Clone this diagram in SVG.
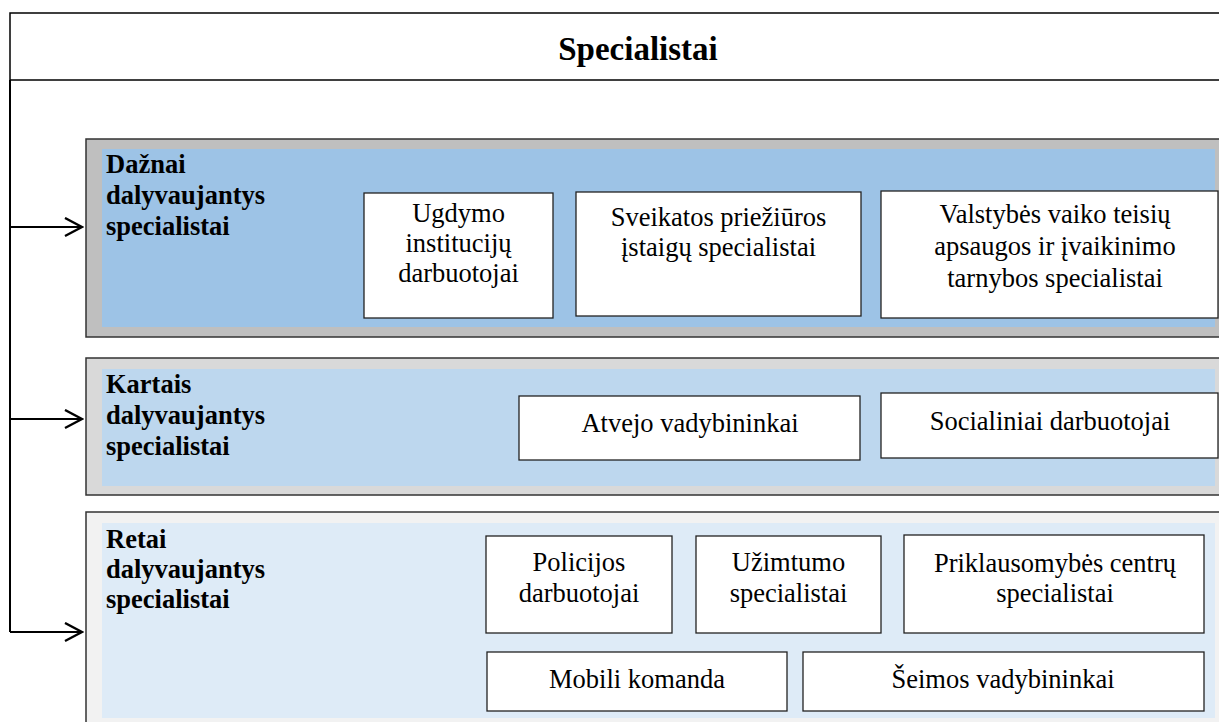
<svg xmlns="http://www.w3.org/2000/svg" width="1219" height="722" viewBox="0 0 1219 722">
<defs>
<style>
.t{font-family:"Liberation Serif","Times New Roman",serif;font-size:26.5px;fill:#000;text-anchor:middle}
.h{font-family:"Liberation Serif","Times New Roman",serif;font-size:26.5px;font-weight:bold;fill:#000}
.box{fill:#fff;stroke:#222;stroke-width:1.3}
.pan{stroke:#333;stroke-width:1.5}
.conn{fill:none;stroke:#000;stroke-width:2}
</style>
<marker id="arr" markerWidth="20" markerHeight="22" refX="18" refY="10" orient="auto" markerUnits="userSpaceOnUse">
<path d="M1,1 L18,10 L1,19" fill="none" stroke="#000" stroke-width="2.4"/>
</marker>
</defs>
<rect width="1219" height="722" fill="#fff"/>
<g id="title">
<rect x="10" y="13" width="1215" height="67" fill="#fff" stroke="#000" stroke-width="1.5"/>
<text x="638" y="60" font-family="Liberation Serif, Times New Roman, serif" font-size="33" font-weight="bold" text-anchor="middle">Specialistai</text>
</g>
<g id="panel-dazanai">
<rect class="pan" x="86" y="139" width="1140" height="198" fill="#bfbfbf"/>
<rect x="102" y="149" width="1113" height="178" fill="#9dc3e6"/>
<text class="h" x="106" y="173">Dažnai</text>
<text class="h" x="106" y="204">dalyvaujantys</text>
<text class="h" x="106" y="235">specialistai</text>
</g>
<g id="node-ugdymo">
<rect class="box" x="364" y="193" width="189" height="125"/>
<text class="t" x="458.5" y="222">Ugdymo</text>
<text class="t" x="458.5" y="252">institucijų</text>
<text class="t" x="458.5" y="282">darbuotojai</text>
</g>
<g id="node-sveikatos">
<rect class="box" x="576" y="192" width="285" height="124"/>
<text class="t" x="718.5" y="226">Sveikatos priežiūros</text>
<text class="t" x="718.5" y="256">įstaigų specialistai</text>
</g>
<g id="node-valstybes">
<rect class="box" x="881" y="191" width="337" height="127"/>
<text class="t" x="1055" y="223">Valstybės vaiko teisių</text>
<text class="t" x="1055" y="255">apsaugos ir įvaikinimo</text>
<text class="t" x="1055" y="287">tarnybos specialistai</text>
</g>
<g id="panel-kartais">
<rect class="pan" x="86" y="358" width="1140" height="137" fill="#d9d9d9"/>
<rect x="102" y="369" width="1113" height="117" fill="#bdd7ee"/>
<text class="h" x="106" y="393">Kartais</text>
<text class="h" x="106" y="424">dalyvaujantys</text>
<text class="h" x="106" y="455">specialistai</text>
</g>
<g id="node-atvejo">
<rect class="box" x="519" y="396" width="341" height="64"/>
<text class="t" x="690" y="432">Atvejo vadybininkai</text>
</g>
<g id="node-socialiniai">
<rect class="box" x="881" y="393" width="337" height="65"/>
<text class="t" x="1050" y="430">Socialiniai darbuotojai</text>
</g>
<g id="panel-retai">
<rect class="pan" x="86" y="512" width="1140" height="220" fill="#f2f2f2"/>
<rect x="102" y="523" width="1113" height="195" fill="#deebf7"/>
<text class="h" x="106" y="548">Retai</text>
<text class="h" x="106" y="578">dalyvaujantys</text>
<text class="h" x="106" y="608">specialistai</text>
</g>
<g id="node-policijos">
<rect class="box" x="486" y="536" width="186" height="97"/>
<text class="t" x="579" y="571">Policijos</text>
<text class="t" x="579" y="602">darbuotojai</text>
</g>
<g id="node-uzimtumo">
<rect class="box" x="696" y="536" width="185" height="97"/>
<text class="t" x="788.5" y="571">Užimtumo</text>
<text class="t" x="788.5" y="602">specialistai</text>
</g>
<g id="node-priklausomybes">
<rect class="box" x="904" y="535" width="300" height="98"/>
<text class="t" x="1055" y="572">Priklausomybės centrų</text>
<text class="t" x="1055" y="602">specialistai</text>
</g>
<g id="node-mobili">
<rect class="box" x="487" y="652" width="300" height="59"/>
<text class="t" x="637" y="688">Mobili komanda</text>
</g>
<g id="node-seimos">
<rect class="box" x="803" y="652" width="401" height="59"/>
<text class="t" x="1003" y="688">Šeimos vadybininkai</text>
</g>
<g id="connectors">
<path class="conn" d="M10,80 L10,632"/>
<path class="conn" d="M10,227 L82,227" marker-end="url(#arr)"/>
<path class="conn" d="M10,419 L82,419" marker-end="url(#arr)"/>
<path class="conn" d="M10,632 L82,632" marker-end="url(#arr)"/>
</g>
</svg>
